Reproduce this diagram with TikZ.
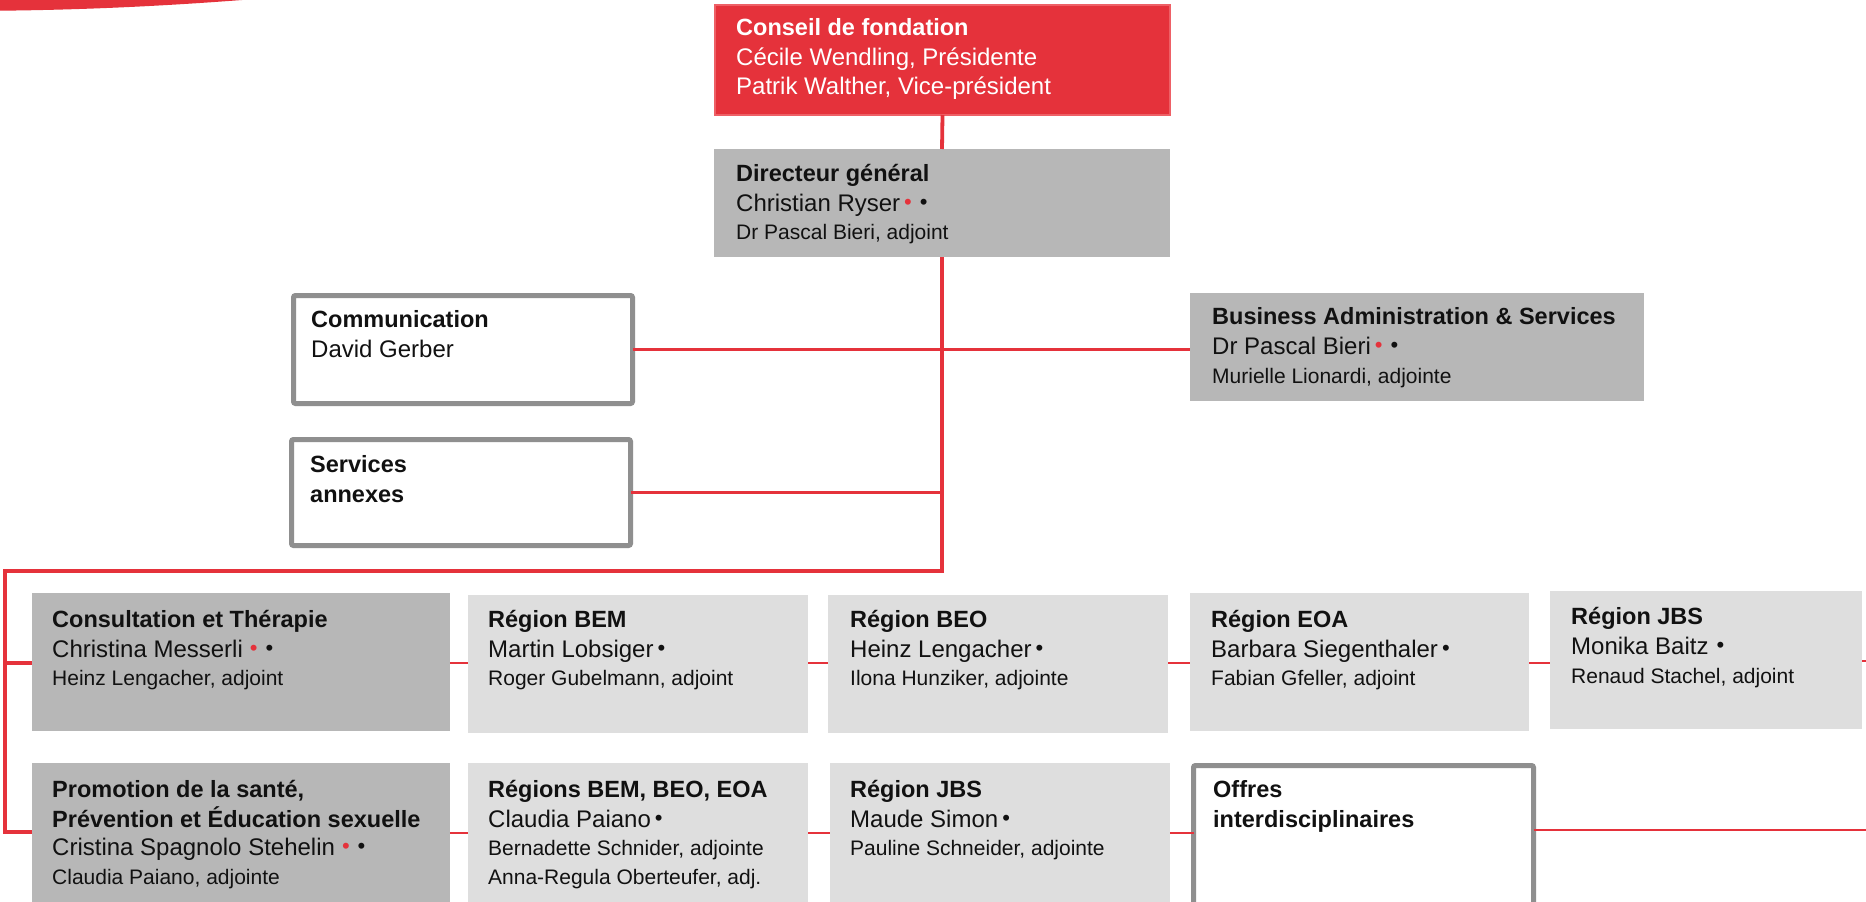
\documentclass[tikz,border=0pt]{standalone}
\usepackage{fontspec}
\setmainfont{Liberation Sans}
\definecolor{cred}{RGB}{229,50,59}
\definecolor{credl}{RGB}{238,96,102}
\definecolor{dgray}{RGB}{183,183,183}
\definecolor{lgray}{RGB}{222,222,222}
\definecolor{bgray}{RGB}{143,143,143}
\definecolor{tx}{RGB}{17,17,17}
\newcommand\bul[1]{\textcolor{#1}{\raisebox{1.5pt}{\fontsize{22}{22}\selectfont •}}}
\newcommand\rb{\hspace{4pt}\bul{cred}\hspace{8pt}\bul{tx}}
\newcommand\bb[1][4pt]{\hspace{#1}\bul{tx}}
\newcommand\bx[7]{\node[#2, minimum width={#5-#3}, minimum height={#6-#4}] (#1) at (#3,#4) {#7};}
\begin{document}
\begin{tikzpicture}[x=1pt,y=-1pt,
  boxbase/.style={rectangle, inner sep=0pt, outer sep=0pt, anchor=north west},
  redbox/.style={boxbase, fill=cred, draw=credl, line width=1.2pt},
  darkbox/.style={boxbase, fill=dgray},
  lightbox/.style={boxbase, fill=lgray},
  framebox/.style={boxbase, fill=white, draw=bgray, line width=5pt, rounded corners=2pt},
  hd/.style={font=\fontsize{23.5}{28}\selectfont\bfseries, text=tx, anchor=base west, inner sep=0pt},
  nm/.style={font=\fontsize{24}{28}\selectfont, text=tx, anchor=base west, inner sep=0pt},
  sm/.style={font=\fontsize{21}{25}\selectfont, text=tx, anchor=base west, inner sep=0pt},
  main/.style={draw=cred, line width=3.8pt},
  conn/.style={draw=cred, line width=2.8pt}]
\useasboundingbox (0,0) rectangle (1866,902);
\fill[white] (0,0) rectangle (1866,902);
% corner swoosh
\fill[cred] (0,0) -- (0,10.7) .. controls (90,9.8) and (170,5.5) .. (242,0) -- cycle;

% boxes
\bx{conseil}{redbox}{715}{5}{1170}{115}{}
\bx{dir}{darkbox}{714}{149}{1170}{257}{}
\bx{comm}{framebox}{293.5}{295.5}{632.5}{403.5}{}
\bx{sa}{framebox}{291.5}{439.5}{630.5}{545.5}{}
\bx{bas}{darkbox}{1190}{293}{1644}{401}{}
\bx{consult}{darkbox}{32}{593}{450}{731}{}
\bx{bem}{lightbox}{468}{595}{808}{733}{}
\bx{beo}{lightbox}{828}{595}{1168}{733}{}
\bx{eoa}{lightbox}{1190}{593}{1529}{731}{}
\bx{jbs}{lightbox}{1550}{591}{1862}{729}{}
\bx{promo}{darkbox}{32}{763}{450}{910}{}
\bx{rbeo}{lightbox}{468}{763}{808}{910}{}
\bx{jbstwo}{lightbox}{830}{763}{1170}{910}{}
\bx{offres}{framebox}{1193.5}{765.5}{1533.5}{915}{}

% connectors
\coordinate (j1) at (942,571);
\coordinate (c1) at (5,571);
\coordinate (c2) at (5,832);
\coordinate (r1) at (0,663);
\coordinate (r2) at (0,833);
\coordinate (e1) at (1866,661);
\coordinate (e2) at (1866,830);
\draw[main] (conseil.south) -- (dir.north);
\draw[main] (dir.south) -- (j1) -- (c1) -- (c2) -- (c2 -| promo.west);
\draw[main] (consult.west |- r1) -- (r1 -| c1);
\draw[main] (comm.east) -- (comm.east -| bas.west);
\draw[main] (sa.east) -- (sa.east -| j1);
\draw[conn] (consult.east |- r1) -- (bem.west |- r1);
\draw[conn] (bem.east |- r1) -- (beo.west |- r1);
\draw[conn] (beo.east |- r1) -- (eoa.west |- r1);
\draw[conn] (eoa.east |- r1) -- (jbs.west |- r1);
\draw[conn] (jbs.east |- e1) -- (e1);
\draw[conn] (promo.east |- r2) -- (rbeo.west |- r2);
\draw[conn] (rbeo.east |- r2) -- (jbstwo.west |- r2);
\draw[conn] (jbstwo.east |- r2) -- (offres.west |- r2);
\draw[conn] (offres.east |- e2) -- (e2);

% texts
\node[hd, text=white] (t1) at (736,35) {Conseil de fondation};
\node[nm, text=white] (t2) at (736,65) {Cécile Wendling, Présidente};
\node[nm, text=white] (t3) at (736,94) {Patrik Walther, Vice-président};

\node[hd] (d1) at (736,181) {Directeur général};
\node[nm] (d2) at (736,211) {Christian Ryser\rb};
\node[sm] (d3) at (736,239) {Dr Pascal Bieri, adjoint};

\node[hd] (cm1) at (311,327) {Communication};
\node[nm] (cm2) at (311,357) {David Gerber};

\node[hd] (s1) at (310,472) {Services};
\node[hd] (s2) at (310,502) {annexes};

\node[hd] (b1) at (1212,324) {Business Administration \& Services};
\node[nm] (b2) at (1212,354) {Dr Pascal Bieri\rb};
\node[sm] (b3) at (1212,383) {Murielle Lionardi, adjointe};

\node[hd] (k1) at (52,627) {Consultation et Thérapie};
\node[nm] (k2) at (52,657) {Christina Messerli\hspace{3pt}\rb};
\node[sm] (k3) at (52,685) {Heinz Lengacher, adjoint};

\node[hd] (m1) at (488,627) {Région BEM};
\node[nm] (m2) at (488,657) {Martin Lobsiger\bb};
\node[sm] (m3) at (488,685) {Roger Gubelmann, adjoint};

\node[hd] (o1) at (850,627) {Région BEO};
\node[nm] (o2) at (850,657) {Heinz Lengacher\bb};
\node[sm] (o3) at (850,685) {Ilona Hunziker, adjointe};

\node[hd] (a1) at (1211,627) {Région EOA};
\node[nm] (a2) at (1211,657) {Barbara Siegenthaler\bb};
\node[sm] (a3) at (1211,685) {Fabian Gfeller, adjoint};

\node[hd] (j1t) at (1571,624) {Région JBS};
\node[nm] (j2t) at (1571,654) {Monika Baitz\bb[8pt]};
\node[sm] (j3t) at (1571,683) {Renaud Stachel, adjoint};

\node[hd] (p1) at (52,797) {Promotion de la santé,};
\node[hd] (p2) at (52,827) {Prévention et Éducation sexuelle};
\node[nm] (p3) at (52,855) {Cristina Spagnolo Stehelin\hspace{3pt}\rb};
\node[sm] (p4) at (52,884) {Claudia Paiano, adjointe};

\node[hd] (q1) at (488,797) {Régions BEM, BEO, EOA};
\node[nm] (q2) at (488,827) {Claudia Paiano\bb};
\node[sm] (q3) at (488,855) {Bernadette Schnider, adjointe};
\node[sm] (q4) at (488,884) {Anna-Regula Oberteufer, adj.};

\node[hd] (u1) at (850,797) {Région JBS};
\node[nm] (u2) at (850,827) {Maude Simon\bb};
\node[sm] (u3) at (850,855) {Pauline Schneider, adjointe};

\node[hd] (f1) at (1213,797) {Offres};
\node[hd] (f2) at (1213,827) {interdisciplinaires};
\end{tikzpicture}
\end{document}
